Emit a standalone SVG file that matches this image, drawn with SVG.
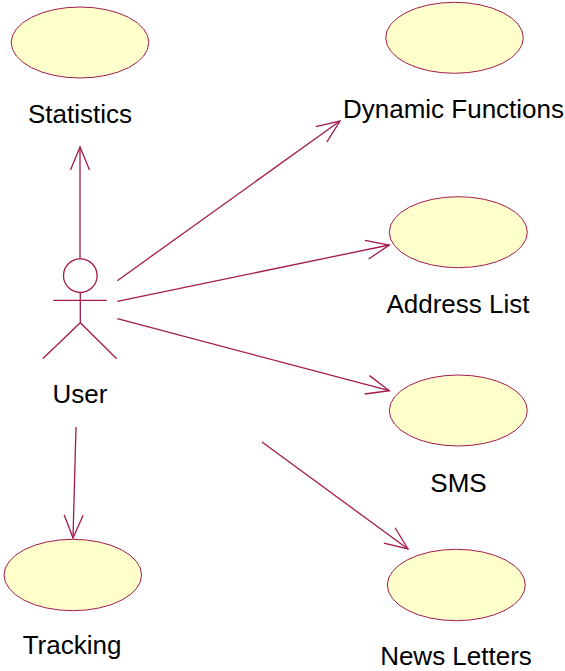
<svg xmlns="http://www.w3.org/2000/svg" width="565" height="671" viewBox="0 0 565 671">
  <style>
    .uc { fill: #FFFFCC; stroke: #A31A4E; stroke-width: 1; }
    .ln { stroke: #A31A4E; stroke-width: 1.3; fill: none; }
    .lbl { font-family: "Liberation Sans", Arial, sans-serif; font-size: 26px; fill: #000; text-anchor: middle; }
  </style>
  <defs>
    <marker id="open" markerUnits="userSpaceOnUse" markerWidth="30" markerHeight="24" refX="0" refY="0" orient="auto" overflow="visible" viewBox="-26 -12 28 24">
      <path d="M -23 -9.5 L 0 0 L -23 9.5" fill="none" stroke="#A31A4E" stroke-width="1.3"/>
    </marker>
  </defs>
  <rect width="565" height="671" fill="#fff"/>

  <g id="connectors">
    <line class="ln" x1="80" y1="259" x2="80" y2="147" marker-end="url(#open)"/>
    <line class="ln" x1="117.3" y1="280.7" x2="340" y2="121" marker-end="url(#open)"/>
    <line class="ln" x1="117.3" y1="301.3" x2="389.3" y2="245" marker-end="url(#open)"/>
    <line class="ln" x1="117.3" y1="318.7" x2="389.3" y2="390.7" marker-end="url(#open)"/>
    <line class="ln" x1="262" y1="442" x2="408" y2="549" marker-end="url(#open)"/>
    <line class="ln" x1="76" y1="427" x2="73" y2="538" marker-end="url(#open)"/>
  </g>

  <g id="user">
    <circle class="ln" cx="80.3" cy="275.7" r="16.8"/>
    <line class="ln" x1="80.3" y1="292.5" x2="80.3" y2="322.7"/>
    <line class="ln" x1="53.3" y1="300.3" x2="106.7" y2="300.3"/>
    <polyline class="ln" points="42.7,358.7 80.3,322.7 116.7,358.7"/>
    <text class="lbl" x="80" y="403">User</text>
  </g>

  <g id="statistics">
    <ellipse class="uc" cx="80" cy="42.5" rx="68.8" ry="35.5"/>
    <text class="lbl" x="80" y="123">Statistics</text>
  </g>

  <g id="dynamic-functions">
    <ellipse class="uc" cx="454.5" cy="37.8" rx="68.8" ry="35.5"/>
    <text class="lbl" x="453.5" y="118">Dynamic Functions</text>
  </g>

  <g id="address-list">
    <ellipse class="uc" cx="458.3" cy="232.2" rx="69" ry="35.5"/>
    <text class="lbl" x="458" y="313">Address List</text>
  </g>

  <g id="sms">
    <ellipse class="uc" cx="458.3" cy="410.5" rx="69" ry="35.5"/>
    <text class="lbl" x="458.5" y="492">SMS</text>
  </g>

  <g id="news-letters">
    <ellipse class="uc" cx="456.3" cy="585" rx="69" ry="35.7"/>
    <text class="lbl" x="456" y="665">News Letters</text>
  </g>

  <g id="tracking">
    <ellipse class="uc" cx="72.8" cy="575" rx="68.8" ry="35.7"/>
    <text class="lbl" x="72" y="654">Tracking</text>
  </g>
</svg>
